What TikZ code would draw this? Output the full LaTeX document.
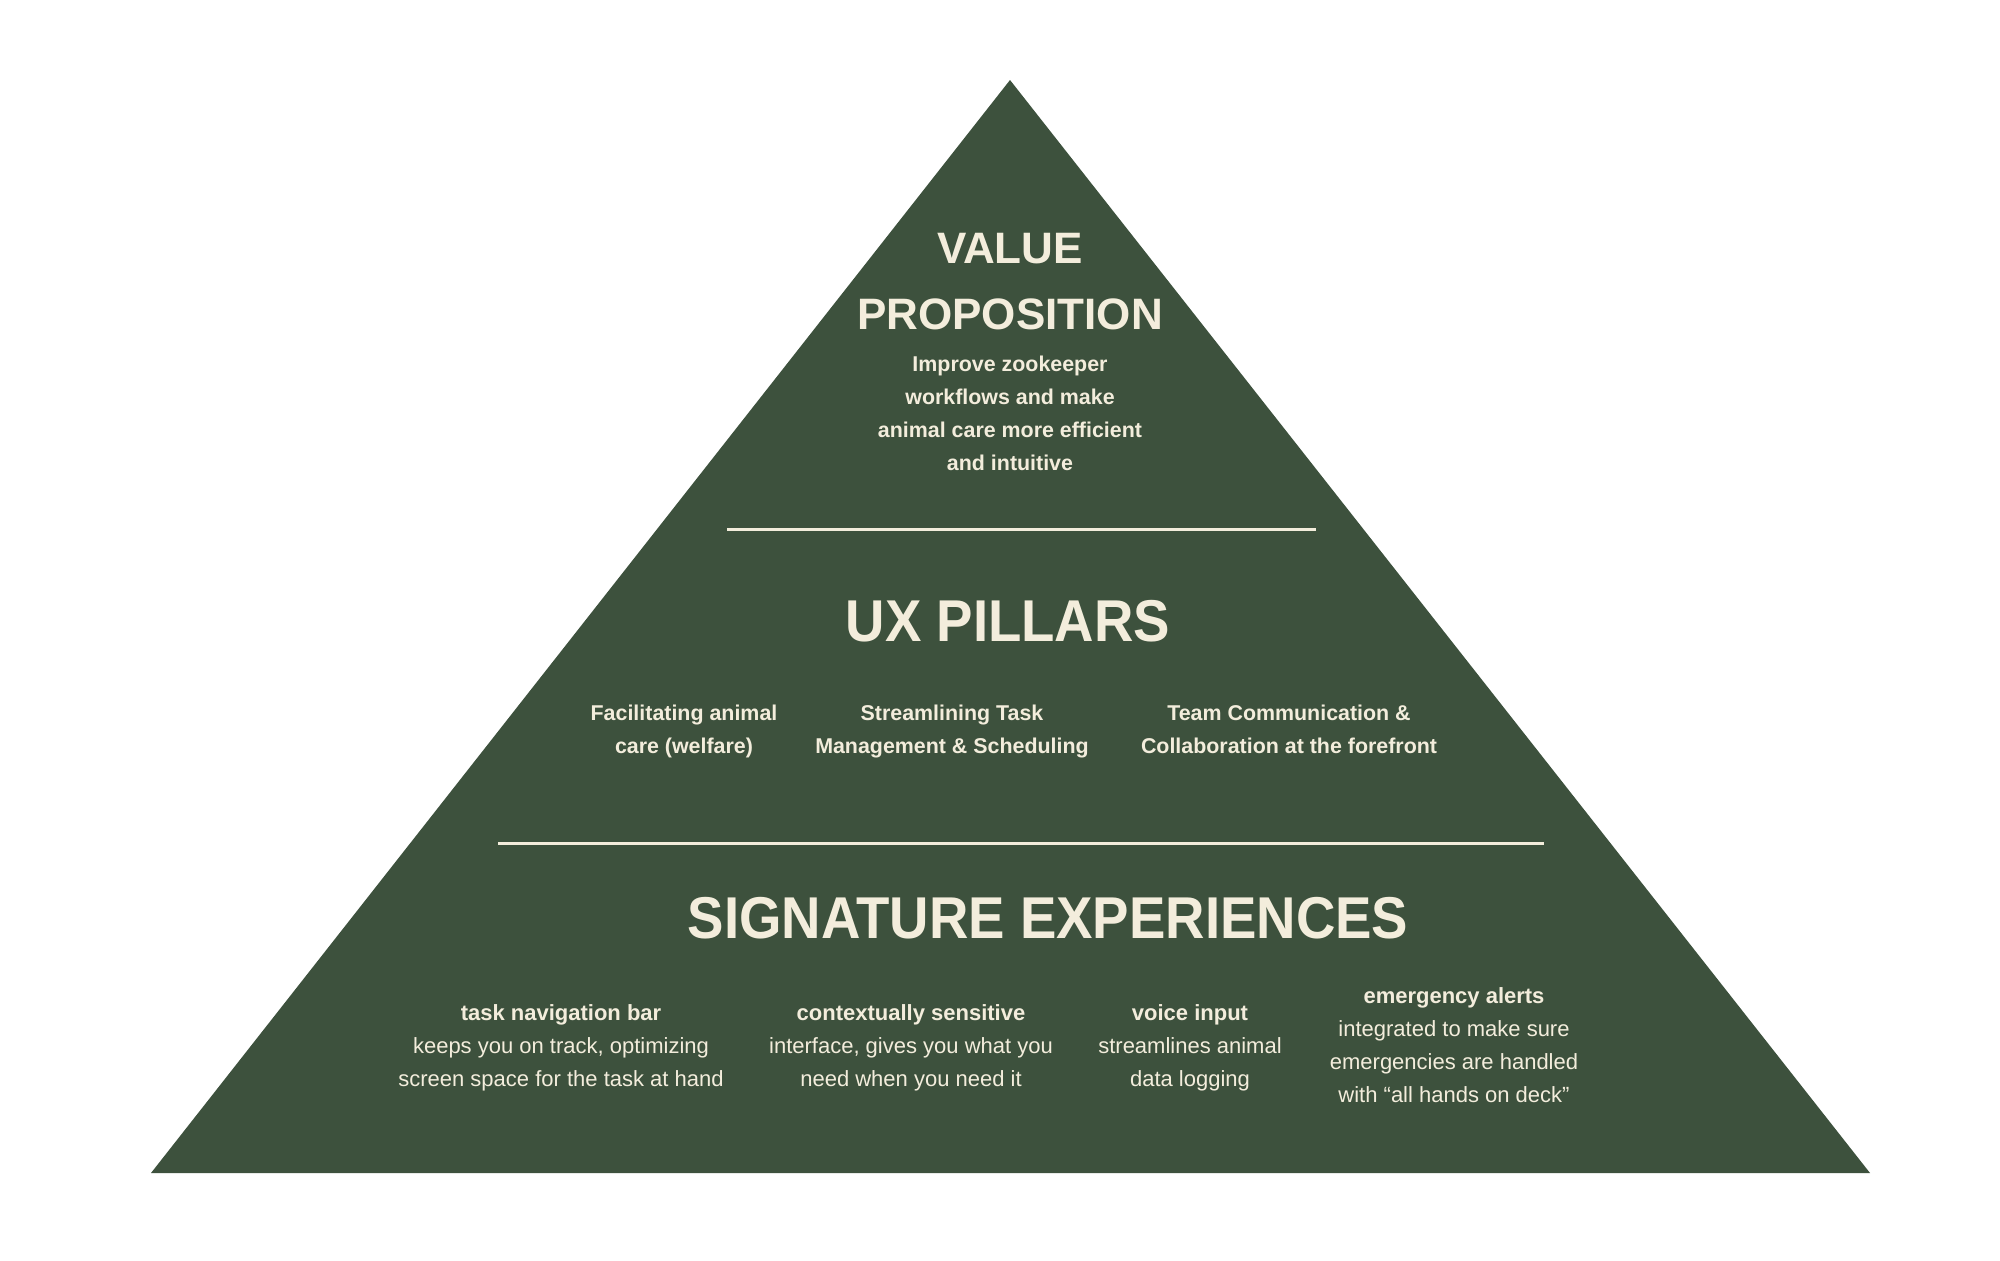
\documentclass[tikz,border=0pt]{standalone}
\usepackage{fontspec}
\setmainfont{Liberation Sans}
\newfontfamily\headfont{Liberation Sans}[FakeStretch=0.925]
\definecolor{pyrgreen}{HTML}{3D513D}
\definecolor{cream}{HTML}{F3EDDC}

\begin{document}
\begin{tikzpicture}[x=0.5pt,y=-0.5pt,
  tiertitle/.style={text=cream,inner sep=0,align=center,font=\headfont\bfseries\fontsize{29.5}{33}\selectfont},
  toptitle/.style={text=cream,inner sep=0,align=center,font=\bfseries\fontsize{22}{33}\selectfont},
  boldtext/.style={text=cream,inner sep=0,align=center,font=\bfseries\fontsize{10.7}{16.5}\selectfont},
  plaintext/.style={text=cream,inner sep=0,align=center,font=\fontsize{11}{16.5}\selectfont},
  divider/.style={draw=cream,line width=1.5pt}]
\useasboundingbox[fill=white] (0,0) rectangle (2000,1260);

% pyramid
\coordinate (apex) at (1010,80);
\coordinate (baseL) at (151,1173);
\coordinate (baseR) at (1870,1173);
\fill[pyrgreen] (apex) -- (baseL) -- (baseR) -- cycle;

% dividers
\coordinate (div1L) at (727,529);
\coordinate (div1R) at (1316,529);
\coordinate (div2L) at (498,843);
\coordinate (div2R) at (1544,843);
\draw[divider] (div1L) -- (div1R);
\draw[divider] (div2L) -- (div2R);

% top tier
\node[toptitle] (valtitle) at (1010,281.5) {VALUE\\PROPOSITION};
\node[boldtext] (valtext) at (1010,413) {Improve zookeeper\\workflows and make\\animal care more efficient\\and intuitive};

% middle tier
\node[tiertitle] (uxtitle) at (1008,621) {UX PILLARS};
\node[boldtext] (pillarA) at (684,731) {Facilitating animal\\care (welfare)};
\node[boldtext] (pillarB) at (952,731) {Streamlining Task\\Management \& Scheduling};
\node[boldtext] (pillarC) at (1289,729.5) {Team Communication \&\\Collaboration at the forefront};

% bottom tier
\node[tiertitle] (sigtitle) at (1048,918) {SIGNATURE EXPERIENCES};
\node[plaintext] (sigA) at (561,1047.5) {\textbf{task navigation bar}\\keeps you on track, optimizing\\screen space for the task at hand};
\node[plaintext] (sigB) at (911,1047.5) {\textbf{contextually sensitive}\\interface, gives you what you\\need when you need it};
\node[plaintext] (sigC) at (1190,1047.5) {\textbf{voice input}\\streamlines animal\\data logging};
\node[plaintext] (sigD) at (1454,1045) {\textbf{emergency alerts}\\integrated to make sure\\emergencies are handled\\with “all hands on deck”};
\end{tikzpicture}
\end{document}
